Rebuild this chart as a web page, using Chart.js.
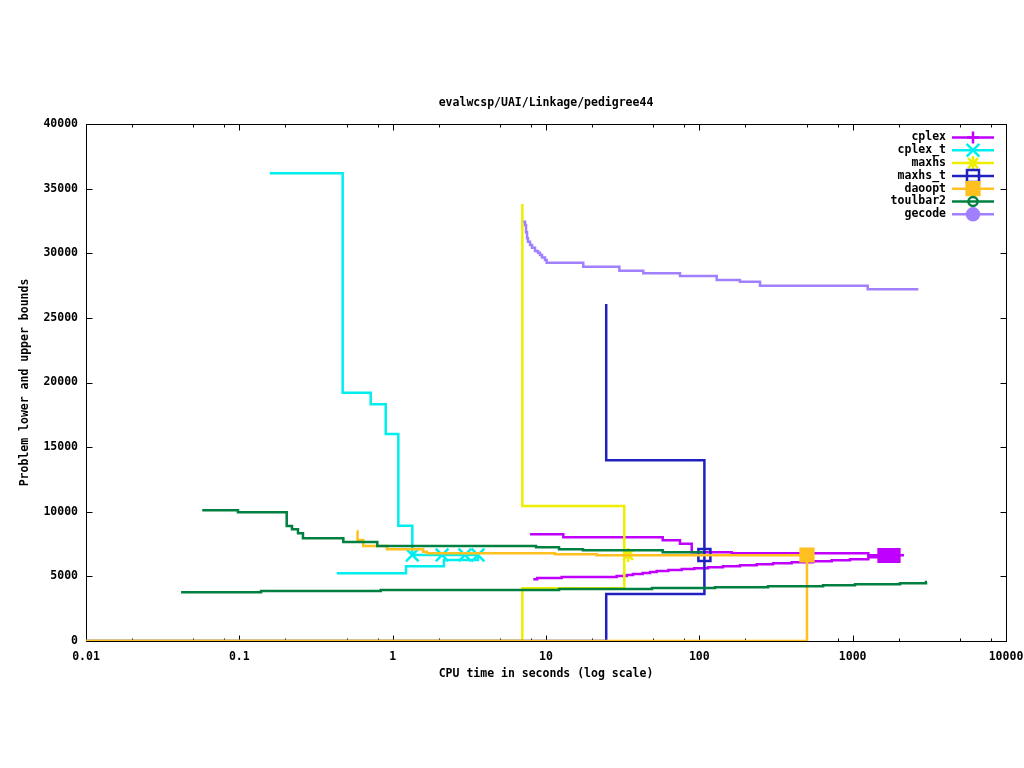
<!DOCTYPE html>
<html>
<head>
<meta charset="utf-8">
<title>pedigree44</title>
<script src="https://cdn.jsdelivr.net/npm/chart.js@4.4.1/dist/chart.umd.min.js"></script>
<style>
  html, body { margin: 0; padding: 0; background: #fff; }
  #wrap { width: 1024px; height: 768px; }
</style>
</head>
<body>
<div id="wrap"><canvas id="chart" width="1024" height="768"></canvas></div>
<script>
(function () {
    'use strict';

    // axis ticks
    var xTickValues = [0.01, 0.1, 1, 10, 100, 1000, 10000];
    var xTickLabels = ['0.01', '0.1', '1', '10', '100', '1000', '10000'];
    var xMinorValues = [0.02, 0.05, 0.08, 0.2, 0.5, 0.8, 2, 5, 8, 20, 50, 80, 200, 500, 800, 2000, 5000, 8000];
    var yTickValues = [0, 5000, 10000, 15000, 20000, 25000, 30000, 35000, 40000];
    var yTickLabels = ['0', '5000', '10000', '15000', '20000', '25000', '30000', '35000', '40000'];

    // cplex
    var cplexUbT = [7.87, 12.97, 57.7, 74.8, 89.2, 162.6, 1265, 2163];
    var cplexUbV = [8255, 8023, 7791, 7530, 6863, 6785, 6630, 6630];
    var cplexLbT = [8.26, 8.77, 12.65, 28.9, 33.6, 36.9, 42.7, 47.7, 52.7, 62.8, 76.8, 92.7, 114, 142.6, 184, 236.6, 302.6, 400, 551, 730, 961, 1265, 1507];
    var cplexLbV = [4774, 4874, 4952, 5029, 5106, 5184, 5261, 5338, 5416, 5493, 5571, 5625, 5702, 5780, 5857, 5934, 6012, 6089, 6166, 6244, 6321, 6476, 6615];
    var cplexMarkT = [1624, 1833];
    var cplexMarkV = [6615, 6615];

    // cplex_t
    var cplexTUbT = [0.158, 0.472, 0.719, 0.901, 1.089, 1.343, 3.6];
    var cplexTUbV = [36186, 19211, 18314, 16015, 8921, 6654, 6654];
    var cplexTLbT = [0.432, 1.222, 2.16, 3.6];
    var cplexTLbV = [5238, 5780, 6267, 6654];
    var cplexTMarkT = [1.343, 2.1, 2.96, 3.6];
    var cplexTMarkV = [6654, 6654, 6654, 6654];

    // maxhs
    var maxhsUbT = [7.01, 7.01, 32.4, 34.3];
    var maxhsUbV = [33810, 10440, 6654, 6654];
    var maxhsLbT = [0.01, 7.01, 32.4, 34.3];
    var maxhsLbV = [0, 4080, 6654, 6654];
    var maxhsMarkT = [34.3];
    var maxhsMarkV = [6654];

    // maxhs_t
    var maxhsTUbT = [24.7, 24.7, 107.9];
    var maxhsTUbV = [26070, 13980, 6654];
    var maxhsTLbT = [0.01, 24.7, 107.9];
    var maxhsTLbV = [0, 3636, 6654];
    var maxhsTMarkT = [107.9];
    var maxhsTMarkV = [6654];

    // daoopt
    var daooptUbT = [0.588, 0.59, 0.643, 0.918, 1.58, 1.67, 11.45, 21.4, 503.5];
    var daooptUbV = [8511, 7814, 7350, 7095, 6909, 6785, 6708, 6630, 6630];
    var daooptLbT = [0.01, 503.5];
    var daooptLbV = [0, 6630];
    var daooptMarkT = [503.5];
    var daooptMarkV = [6654];

    // toulbar2
    var toulbarUbT = [0.0573, 0.098, 0.2037, 0.2206, 0.2413, 0.26, 0.4766, 0.794, 8.61, 12.16, 17.42, 57.7, 105.7];
    var toulbarUbV = [10110, 9960, 8900, 8640, 8330, 7950, 7660, 7350, 7250, 7095, 7017, 6863, 6863];
    var toulbarLbT = [0.0417, 0.1385, 0.836, 12.16, 49.1, 126.6, 280.5, 641, 1035, 2036, 3008, 3055];
    var toulbarLbV = [3768, 3868, 3946, 4023, 4101, 4155, 4232, 4310, 4387, 4464, 4565, 4565];

    // gecode
    var gecodeUbT = [7.11, 7.30, 7.41, 7.52, 7.63, 7.87, 8.11, 8.48, 8.87, 9.14, 9.42, 9.85, 10.1, 17.5, 30.1, 43.1, 74.8, 129.8, 184, 248.8, 1253, 2681];
    var gecodeUbV = [32440, 32190, 31620, 31160, 30890, 30640, 30430, 30170, 30040, 29860, 29680, 29480, 29270, 28960, 28650, 28450, 28240, 27930, 27800, 27490, 27210, 27210];

    var solverNames = ['cplex', 'cplex_t', 'maxhs', 'maxhs_t', 'daoopt', 'toulbar2', 'gecode'];

    var colors = {
        cplex: '#c000ff',
        cplex_t: '#00eeee',
        maxhs: '#eeee00',
        maxhs_t: '#2020c0',
        daoopt: '#ffc020',
        toulbar2: '#008040',
        gecode: '#a080ff'
    };

    var marks = {
        cplex: { pointStyle: 'cross', radius: 6, filled: false },
        cplex_t: { pointStyle: 'crossRot', radius: 9, filled: false },
        maxhs: { pointStyle: 'star', radius: 7, filled: false },
        maxhs_t: { pointStyle: 'rect', radius: 8.5, filled: false },
        daoopt: { pointStyle: 'rect', radius: 9, filled: true },
        toulbar2: { pointStyle: 'circle', radius: 4.5, filled: false },
        gecode: { pointStyle: 'circle', radius: 6, filled: true }
    };

    var FONT = '"DejaVu Sans Mono", "Liberation Mono", monospace';
    var LW = 2.5;

    function points(times, values) {
        return times.map(function (t, i) {
            return { x: t, y: values[i] };
        });
    }

    function stepLine(times, values, color) {
        return {
            data: points(times, values),
            borderColor: color,
            backgroundColor: color,
            borderWidth: LW,
            stepped: 'before',
            pointRadius: 0,
            fill: false,
            tension: 0
        };
    }

    function markSet(times, values, color, mark) {
        return {
            data: points(times, values),
            showLine: false,
            pointStyle: mark.pointStyle,
            pointRadius: mark.radius,
            pointBorderWidth: LW,
            pointBorderColor: color,
            pointBackgroundColor: mark.filled ? color : 'rgba(0,0,0,0)'
        };
    }

    var datasets = [
        stepLine(cplexUbT, cplexUbV, colors.cplex),
        stepLine(cplexLbT, cplexLbV, colors.cplex),
        markSet(cplexMarkT, cplexMarkV, colors.cplex, { pointStyle: 'rect', radius: 9, filled: true }),
        stepLine(cplexTUbT, cplexTUbV, colors.cplex_t),
        stepLine(cplexTLbT, cplexTLbV, colors.cplex_t),
        markSet(cplexTMarkT, cplexTMarkV, colors.cplex_t, marks.cplex_t),
        stepLine(maxhsUbT, maxhsUbV, colors.maxhs),
        stepLine(maxhsLbT, maxhsLbV, colors.maxhs),
        markSet(maxhsMarkT, maxhsMarkV, colors.maxhs, marks.maxhs),
        stepLine(maxhsTUbT, maxhsTUbV, colors.maxhs_t),
        stepLine(maxhsTLbT, maxhsTLbV, colors.maxhs_t),
        markSet(maxhsTMarkT, maxhsTMarkV, colors.maxhs_t, marks.maxhs_t),
        stepLine(daooptUbT, daooptUbV, colors.daoopt),
        stepLine(daooptLbT, daooptLbV, colors.daoopt),
        markSet(daooptMarkT, daooptMarkV, colors.daoopt, marks.daoopt),
        stepLine(toulbarUbT, toulbarUbV, colors.toulbar2),
        stepLine(toulbarLbT, toulbarLbV, colors.toulbar2),
        stepLine(gecodeUbT, gecodeUbV, colors.gecode)
    ];
    // gnuplot draws later curves on top
    datasets.forEach(function (ds, i) {
        ds.order = datasets.length - i;
    });

    function drawMark(ctx, mark, x, y, color) {
        ctx.save();
        ctx.strokeStyle = color;
        ctx.fillStyle = mark.filled ? color : 'rgba(0,0,0,0)';
        ctx.lineWidth = LW;
        Chart.helpers.drawPoint(ctx, { pointStyle: mark.pointStyle, radius: mark.radius, borderWidth: LW, rotation: 0 }, x, y);
        ctx.restore();
    }

    var gnuplotFrame = {
        id: 'gnuplotFrame',
        beforeDatasetsDraw: function (chart) {
            var ctx = chart.ctx;
            var a = chart.chartArea;
            var xs = chart.scales.x;
            var ys = chart.scales.y;
            var L = Math.round(a.left) + 0.5, R = Math.round(a.right) + 0.5;
            var T = Math.round(a.top) + 0.5, B = Math.round(a.bottom) + 0.5;

            ctx.save();
            ctx.strokeStyle = '#000';
            ctx.lineWidth = 1;
            ctx.strokeRect(L, T, R - L, B - T);

            ctx.beginPath();
            xTickValues.forEach(function (v) {
                var px = Math.round(xs.getPixelForValue(v)) + 0.5;
                ctx.moveTo(px, B); ctx.lineTo(px, B - 6);
                ctx.moveTo(px, T); ctx.lineTo(px, T + 6);
            });
            xMinorValues.forEach(function (v) {
                var px = Math.round(xs.getPixelForValue(v)) + 0.5;
                ctx.moveTo(px, B); ctx.lineTo(px, B - 3);
                ctx.moveTo(px, T); ctx.lineTo(px, T + 3);
            });
            yTickValues.forEach(function (v) {
                var py = Math.round(ys.getPixelForValue(v)) + 0.5;
                ctx.moveTo(L, py); ctx.lineTo(L + 6, py);
                ctx.moveTo(R, py); ctx.lineTo(R - 6, py);
            });
            ctx.stroke();
            ctx.restore();
        },
        afterDraw: function (chart) {
            var ctx = chart.ctx;
            var a = chart.chartArea;
            var cx = (a.left + a.right) / 2;

            ctx.save();
            ctx.fillStyle = '#000';
            ctx.font = 'bold 11.5px ' + FONT;
            ctx.textAlign = 'center';
            ctx.textBaseline = 'middle';
            ctx.fillText('evalwcsp/UAI/Linkage/pedigree44', cx, 103);
            ctx.fillText('CPU time in seconds (log scale)', cx, 674);

            ctx.save();
            ctx.translate(25, (a.top + a.bottom) / 2);
            ctx.rotate(-Math.PI / 2);
            ctx.fillText('Problem lower and upper bounds', 0, 0);
            ctx.restore();

            // key, top right
            ctx.textAlign = 'right';
            solverNames.forEach(function (name, i) {
                var y = 137.5 + i * 12.8;
                ctx.fillStyle = '#000';
                ctx.fillText(name, 946, y);
                ctx.strokeStyle = colors[name];
                ctx.lineWidth = LW;
                ctx.beginPath();
                ctx.moveTo(952, y);
                ctx.lineTo(994, y);
                ctx.stroke();
                drawMark(ctx, marks[name], 973, y, colors[name]);
            });
            ctx.restore();
        }
    };

    var tickFont = { family: FONT, size: 11.5, weight: 'bold' };

    new Chart(document.getElementById('chart'), {
        type: 'line',
        data: { datasets: datasets },
        options: {
            responsive: false,
            animation: false,
            layout: { padding: { top: 124, right: 18, bottom: 0, left: 0 } },
            plugins: {
                legend: { display: false },
                tooltip: { enabled: false },
                title: { display: false }
            },
            scales: {
                x: {
                    type: 'logarithmic',
                    min: 0.01,
                    max: 10000,
                    afterBuildTicks: function (scale) {
                        scale.ticks = xTickValues.map(function (v) { return { value: v }; });
                    },
                    afterFit: function (scale) {
                        scale.height = 127;
                        scale.paddingLeft = 0;
                        scale.paddingRight = 0;
                    },
                    grid: { display: false, drawTicks: false },
                    border: { display: false },
                    ticks: {
                        autoSkip: false,
                        maxRotation: 0,
                        padding: 9,
                        color: '#000',
                        font: tickFont,
                        callback: function (value, index) { return xTickLabels[index]; }
                    }
                },
                y: {
                    type: 'linear',
                    min: 0,
                    max: 40000,
                    afterBuildTicks: function (scale) {
                        scale.ticks = yTickValues.map(function (v) { return { value: v }; });
                    },
                    afterFit: function (scale) {
                        scale.width = 86;
                        scale.paddingTop = 0;
                        scale.paddingBottom = 0;
                    },
                    grid: { display: false, drawTicks: false },
                    border: { display: false },
                    ticks: {
                        padding: 8,
                        color: '#000',
                        font: tickFont,
                        callback: function (value, index) { return yTickLabels[index]; }
                    }
                }
            }
        },
        plugins: [gnuplotFrame]
    });
})();
</script>
</body>
</html>
